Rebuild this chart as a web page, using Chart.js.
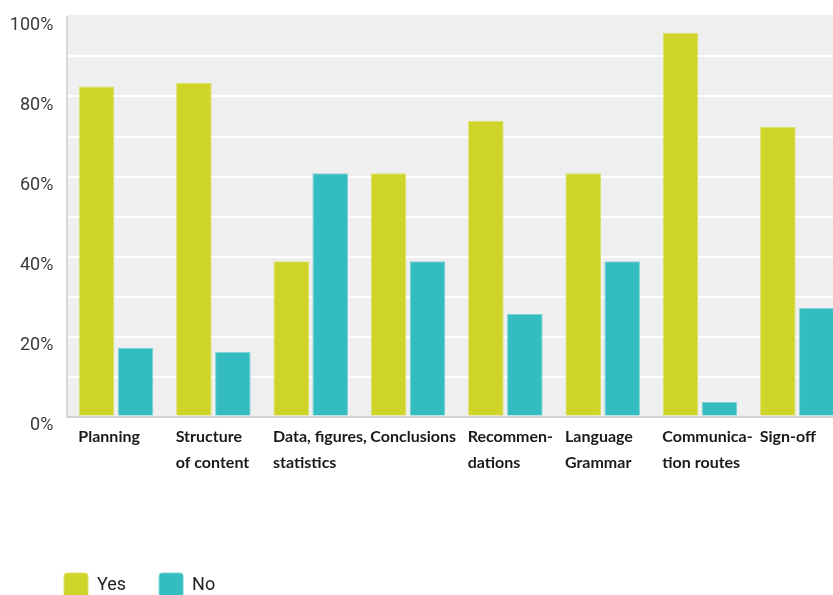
<!DOCTYPE html>
<html>
<head>
<meta charset="utf-8">
<script src="https://cdn.jsdelivr.net/npm/chart.js@4.4.1/dist/chart.umd.min.js"></script>
<style>
  html, body { margin: 0; padding: 0; background: #ffffff; overflow: hidden; }
  #wrap { position: relative; width: 850px; height: 607px; }
</style>
</head>
<body>
<div id="wrap"><canvas id="chart"></canvas></div>
<script>
// Review topics (multi-line axis labels)
const categories = [
  ['Planning'],
  ['Structure', 'of content'],
  ['Data, figures,', 'statistics'],
  ['Conclusions'],
  ['Recommen-', 'dations'],
  ['Language', 'Grammar'],
  ['Communica-', 'tion routes'],
  ['Sign-off']
];

// Share of answers per topic, in percent
const yesValues = [82.5, 83.4, 38.8, 60.8, 73.9, 60.8, 95.9, 72.4];
const noValues  = [17.2, 16.2, 60.8, 38.8, 25.6, 38.8, 3.6, 27.1];

const seriesNames = ['Yes', 'No'];
const percentTicks = [0, 20, 40, 60, 80, 100];

const NARROW = 'Roboto, "Liberation Sans", sans-serif';

// Light grey panel behind the bars
const plotBackground = {
  id: 'plotBackground',
  beforeDraw(chart) {
    const { ctx, chartArea: a } = chart;
    ctx.save();
    ctx.fillStyle = '#efefef';
    ctx.fillRect(a.left, a.top - 1.5, a.right - a.left, a.bottom - a.top + 1.5);
    ctx.restore();
  }
};

// Indent the legend row so it lines up under the plot
const legendIndent = {
  id: 'legendIndent',
  afterLayout(chart) {
    const lg = chart.legend;
    if (lg) { lg.left += 31; lg.right += 31; }
  }
};

new Chart(document.getElementById('chart'), {
  type: 'bar',
  data: {
    labels: categories,
    datasets: [
      {
        label: seriesNames[0],
        data: yesValues,
        backgroundColor: '#cfd528',
        borderColor: '#dbe06b',
        borderWidth: 1,
        barPercentage: 0.913,
        categoryPercentage: 0.801
      },
      {
        label: seriesNames[1],
        data: noValues,
        backgroundColor: '#33bdc0',
        borderColor: '#7fd3d4',
        borderWidth: 1,
        barPercentage: 0.913,
        categoryPercentage: 0.801
      }
    ]
  },
  options: {
    responsive: true,
    maintainAspectRatio: false,
    animation: false,
    layout: { padding: { left: 0, right: 4, top: 16.5, bottom: 0 } },
    plugins: {
      legend: {
        position: 'bottom',
        align: 'start',
        labels: {
          boxWidth: 24,
          boxHeight: 24,
          padding: 33,
          color: '#222222',
          useBorderRadius: true,
          borderRadius: 3,
          font: { family: NARROW, size: 18 }
        }
      },
      tooltip: { enabled: false }
    },
    scales: {
      x: {
        grid: { display: false, drawTicks: false },
        border: { display: true, color: '#d2d2d2', width: 2 },
        ticks: {
          autoSkip: false,
          maxRotation: 0,
          minRotation: 0,
          align: 'start',
          labelOffset: -37.7,
          padding: 7,
          color: '#1a1a1a',
          font: { family: 'Lato', weight: 'bold', size: 16, lineHeight: 1.63 }
        },
        afterFit(scale) {
          scale.height = 123.5;
          scale.paddingLeft = 0;
          scale.paddingRight = 0;
        }
      },
      y: {
        min: 0,
        max: 100,
        grid: {
          color: (c) => (c.tick && (c.tick.value === 0 || c.tick.value === 100)) ? 'rgba(0,0,0,0)' : '#ffffff',
          lineWidth: 2,
          drawTicks: false
        },
        border: { display: true, color: '#d8d8d8', width: 2 },
        ticks: {
          stepSize: 10,
          padding: 14,
          labelOffset: 9,
          color: '#3a3a3a',
          font: { family: NARROW, size: 18 },
          callback: (v) => percentTicks.includes(v) ? v + '%' : ''
        },
        afterFit(scale) {
          scale.width = 67.4;
          scale.paddingTop = 0;
          scale.paddingBottom = 0;
        }
      }
    }
  },
  plugins: [plotBackground, legendIndent]
});
</script>
</body>
</html>
